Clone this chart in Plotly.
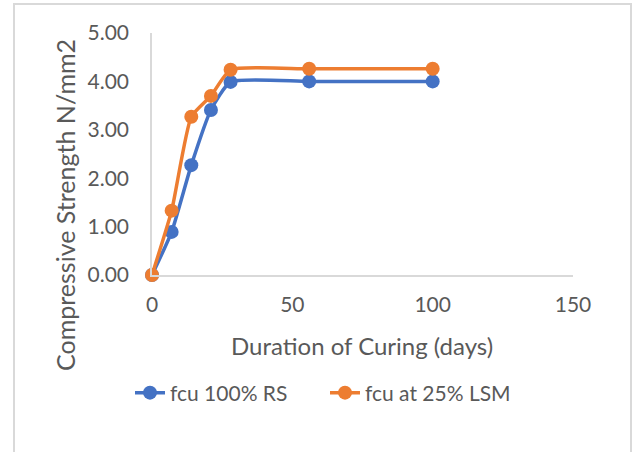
import plotly.graph_objects as go

days = [0, 7, 14, 21, 28, 56, 100]
fcu_rs = [0.0, 0.89, 2.27, 3.41, 3.99, 4.00, 4.00]
fcu_lsm = [0.0, 1.33, 3.27, 3.70, 4.24, 4.26, 4.26]
names = ["fcu 100% RS", "fcu at 25% LSM"]
colors = ["#4472C4", "#ED7D31"]
x_ticks = [0, 50, 100, 150]
y_ticks = [0, 1, 2, 3, 4, 5]

FONT = "Lato, 'Open Sans', sans-serif"
GRAY = "#595959"

fig = go.Figure()
for ys, nm, c in zip([fcu_rs, fcu_lsm], names, colors):
    fig.add_trace(go.Scatter(
        x=days, y=ys, name=nm, mode="lines+markers",
        line=dict(color=c, width=3.5, shape="spline", smoothing=0.5),
        marker=dict(color=c, size=14),
        cliponaxis=False,
    ))

L, R, T, B = 152, 62, 33, 177
W, H = 635, 452
pw = W - L - R
ph = H - T - B


def px_x(p):
    return (p - L) / pw


def px_y(p):
    return (H - B - p) / ph


fig.update_layout(
    width=W, height=H,
    margin=dict(l=L, r=R, t=T, b=B),
    paper_bgcolor="white", plot_bgcolor="white",
    font=dict(family=FONT, color=GRAY, size=21),
    showlegend=True,
    legend=dict(orientation="h", x=px_x(130), xanchor="left",
                y=px_y(393), yanchor="middle",
                font=dict(size=21, color=GRAY),
                itemwidth=30, entrywidth=150, entrywidthmode="pixels",
                tracegroupgap=0),
    xaxis=dict(range=[0, 150], tickvals=x_ticks, ticktext=[str(v) for v in x_ticks],
               showgrid=False, zeroline=False, showline=True, linecolor="#D9D9D9",
               linewidth=1.5, ticks="", ticklabelstandoff=10,
               tickfont=dict(size=21, color=GRAY)),
    yaxis=dict(range=[0, 5], tickvals=y_ticks, ticktext=[f"{v:.2f}" for v in y_ticks],
               showgrid=False, zeroline=False, showline=True, linecolor="#D9D9D9",
               linewidth=1.5, ticks="", ticklabelstandoff=17,
               tickfont=dict(size=21, color=GRAY)),
    annotations=[
        dict(text="Duration of Curing (days)", xref="paper", yref="paper",
             x=px_x(362), y=px_y(345), showarrow=False,
             xanchor="center", yanchor="middle",
             font=dict(size=24, color=GRAY)),
        dict(text="Compressive Strength N/mm2", xref="paper", yref="paper",
             x=px_x(65), y=px_y(205), showarrow=False, textangle=-90,
             xanchor="center", yanchor="middle",
             font=dict(size=25, color=GRAY)),
    ],
)

# chart-area border (no bottom edge visible in the reference)
bx0 = px_x(14)
bx1 = px_x(631)
by1 = px_y(4)
by0 = px_y(470)
fig.add_shape(type="path", xref="paper", yref="paper",
              path=f"M {bx0} {by0} L {bx0} {by1} L {bx1} {by1} L {bx1} {by0}",
              line=dict(color="#D9D9D9", width=2))

fig.write_html("out.html")
